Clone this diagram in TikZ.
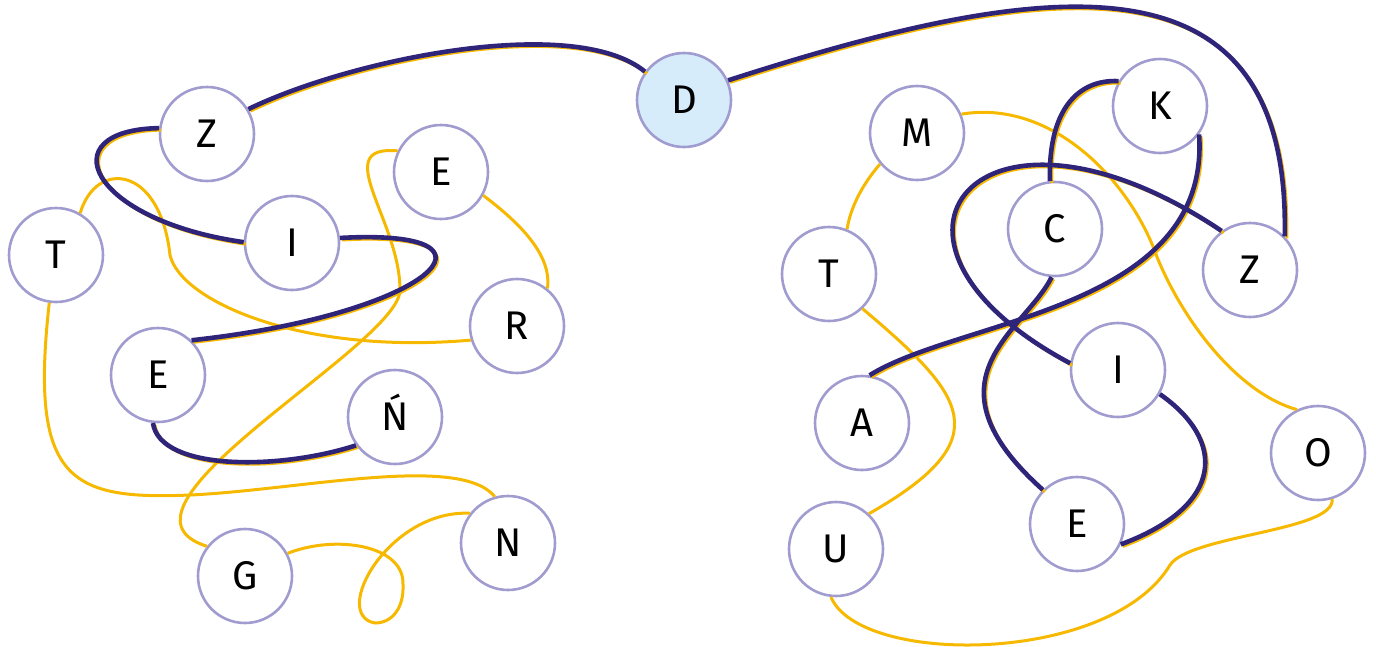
\documentclass[tikz,border=0pt]{standalone}
\usepackage{fontspec}
\setmainfont{Fira Sans}

\definecolor{ringc}{RGB}{161,156,207}
\definecolor{dfill}{RGB}{214,236,251}
\definecolor{goldc}{RGB}{247,184,0}
\definecolor{indigoc}{RGB}{46,36,122}

\begin{document}
\begin{tikzpicture}[x=1pt, y=-1pt,
    letter/.style={circle, draw=ringc, line width=2.6pt, fill=white,
        minimum size=94pt, inner sep=0pt, text height=27.6pt, text depth=0pt,
        font=\fontsize{40}{48}\selectfont},
    goldline/.style={draw=goldc, line width=3pt},
    indigoline/.style={draw=indigoc, line width=4.6pt}]

    % ================= Canvas (pixel grid, y downwards) =================
    \path[use as bounding box] (0,0) rectangle (1376,646);

    % ================= Letters, left group =================
    \node[letter, fill=dfill] (D) at (684,100) {D};
    \node[letter] (Za)  at (207,134) {Z};
    \node[letter] (Ea)  at (441,172) {E};
    \node[letter] (Ta)  at (56,255)  {T};
    \node[letter] (Ia)  at (292,243) {I};
    \node[letter] (R)   at (517,326) {R};
    \node[letter] (Eb)  at (158,375) {E};
    \node[letter] (Nac) at (395,417) {Ń};
    \node[letter] (G)   at (245,576) {G};
    \node[letter] (N)   at (508,543) {N};

    % ================= Letters, right group =================
    \node[letter] (M)  at (917,133)  {M};
    \node[letter] (K)  at (1160,106) {K};
    \node[letter] (C)  at (1055,229) {C};
    \node[letter] (Tb) at (829,274)  {T};
    \node[letter] (Zb) at (1250,270) {Z};
    \node[letter] (Ib) at (1118,370) {I};
    \node[letter] (A)  at (862,423)  {A};
    \node[letter] (O)  at (1318,453) {O};
    \node[letter] (U)  at (836,549)  {U};
    \node[letter] (Ec) at (1077,524) {E};

    % Waypoints of the long yellow curves
    \coordinate (wTR)  at (170,255);
    \coordinate (wEG)  at (400,290);
    \coordinate (wTN)  at (190,495);
    \coordinate (wGNa) at (403,585);
    \coordinate (wGNb) at (375,623);
    \coordinate (wMO)  at (1157,257);
    \coordinate (wUO)  at (1170,565);

    % ================= Yellow-only links =================
    \draw[goldline] (Ta.60) .. controls +(16,-54) and +(-10,-90) .. (wTR)
        .. controls +(10,45) and +(-172,15) .. (R.197);
    \draw[goldline] (Ea.154) .. controls +(-69,-6) and +(0,-70) .. (wEG)
        .. controls +(0,55) and +(-118,-37) .. (G.142);
    \draw[goldline] (Ea.331) .. controls +(33,25) and +(5,-35) .. (R.51);
    \draw[goldline] (Ta.262) .. controls +(-20,178) and +(-120,5) .. (wTN)
        .. controls +(110,-5) and +(-35,-43) .. (N.106);
    \draw[goldline] (G.28) .. controls +(48,-19) and +(2,-40) .. (wGNa)
        .. controls +(1,23) and +(17,0) .. (wGNb)
        .. controls +(-45,-8) and +(-81,-4) .. (N.142);

    \draw[goldline] (M.23) .. controls +(90,-15) and +(-27,-77) .. (wMO)
        .. controls +(28,68) and +(-57,-16) .. (O.116);
    \draw[goldline] (M.220) .. controls +(-19,22) and +(3,-20) .. (Tb.68);
    \draw[goldline] (Tb.314) .. controls +(103,87) and +(132,-75) .. (U.47);
    \draw[goldline] (U.264) .. controls +(29,69) and +(-60,100) .. (wUO)
        .. controls +(20,-30) and +(3,32) .. (O.287);

    % ================= Shared links (yellow under indigo) =================
    \def\sharedlinks{Za.31/{103,-50}/{-71,-58}/D.144,
        Za.173/{-110,2}/{-155,-22}/Ia.179,
        Ia.6/{181,-10}/{239,-26}/Eb.46,
        Eb.264/{7,48}/{-77,25}/Nac.216,
        D.24/{323,-104}/{6,-290}/Zb.44,
        Zb.126/{-242,-162}/{-231,-123}/Ib.172,
        Ib.330/{66,46}/{105,-39}/Ec.335,
        Ec.135/{-124,-111}/{-27,54}/C.266,
        C.96/{-2,-72}/{-40,-2}/K.149,
        K.324/{12,176}/{91,-57}/A.81}

    \foreach \s/\p/\q/\e in \sharedlinks
        \draw[goldline, transform canvas={shift={(2pt,-2pt)}}]
            (\s) .. controls +(\p) and +(\q) .. (\e);

    \foreach \s/\p/\q/\e in \sharedlinks
        \draw[indigoline] (\s) .. controls +(\p) and +(\q) .. (\e);

\end{tikzpicture}
\end{document}
